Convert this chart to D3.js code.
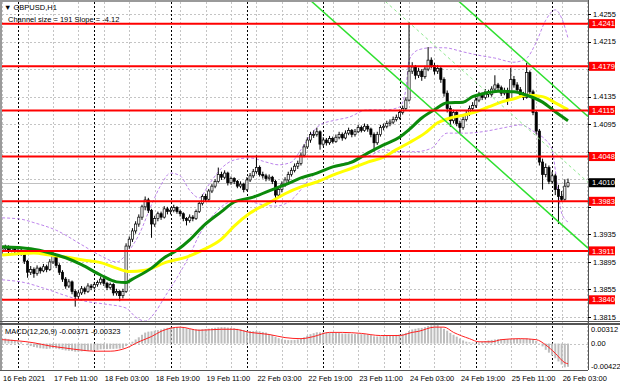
<!DOCTYPE html>
<html>
<head>
<meta charset="utf-8">
<script src="https://cdn.jsdelivr.net/npm/d3@7"></script>
<style>
html, body { margin: 0; padding: 0; background: #fff; }
svg { display: block; font-family: "Liberation Sans", Arial, sans-serif; }
</style>
</head>
<body>
<svg width="620" height="388"></svg>
<script>
// GBPUSD H1, 16 Feb 2021 19:00 .. 26 Feb 05:00
// candle values are pips above 1.3800
const basePrice = 1.38;

const opens = [
  110,114,116,112,115,110,112,108,96,80,
  84,78,86,82,88,84,95,104,90,80,
  70,60,66,52,45,50,56,52,60,58,
  62,65,70,64,58,62,50,52,46,52,
  118,128,140,150,160,175,185,170,150,158,
  165,160,172,168,170,174,168,165,158,155,
  160,158,168,180,190,186,198,205,212,222,
  218,224,210,216,212,205,208,200,214,220,
  226,232,222,220,216,218,212,192,200,208,
  214,222,228,234,238,250,262,272,280,280,
  284,266,272,268,274,270,276,280,275,282,
  286,280,284,290,286,292,288,280,268,280,
  290,292,296,298,302,305,312,318,330,372,
  378,366,372,364,375,388,380,372,376,360,
  340,318,300,312,296,290,302,310,318,322,
  330,338,334,342,338,346,352,348,340,344,
  332,360,352,345,338,334,370,342,312,285,
  240,222,232,212,220,200,190,186,205
];
const highs = [
  118,120,119,118,117,116,114,110,98,89,
  87,90,88,92,91,99,110,106,93,83,
  73,70,68,55,54,60,59,64,63,66,
  68,74,72,66,65,64,56,54,56,122,
  132,144,154,164,178,190,188,172,162,168,
  168,176,175,174,178,176,171,167,160,164,
  163,171,183,193,194,201,208,215,232,226,
  228,226,219,218,214,212,210,218,224,230,
  250,235,226,223,222,220,214,204,212,218,
  226,232,238,242,254,266,276,284,286,290,
  286,276,275,278,277,280,284,283,286,290,
  288,288,294,293,296,295,290,283,284,294,
  296,300,302,306,309,316,322,334,443,385,
  381,377,375,380,407,392,384,381,378,363,
  344,322,316,314,300,306,314,322,327,334,
  342,341,346,345,350,366,355,351,348,348,
  377,365,356,349,342,384,373,345,315,288,
  245,238,235,226,223,207,198,215,216
];
const lows = [
  106,110,108,109,106,106,104,92,72,76,
  72,75,78,80,80,82,92,86,76,66,
  56,57,48,30,40,47,48,50,54,55,
  59,62,60,54,55,46,46,38,42,50,
  114,124,136,146,156,170,166,130,146,154,
  156,158,164,164,167,165,161,154,148,152,
  154,156,166,177,183,184,195,202,210,214,
  215,206,207,208,202,202,196,198,211,217,
  223,219,216,212,213,208,180,188,196,204,
  211,219,225,230,235,247,259,268,275,277,
  258,263,264,265,267,268,273,271,273,279,
  276,277,282,283,284,284,276,255,265,277,
  286,289,292,295,299,302,309,315,328,368,
  360,362,358,361,372,376,367,368,355,335,
  312,291,296,292,282,287,299,307,315,319,
  327,330,331,334,335,343,344,336,337,323,
  330,348,341,334,330,332,338,308,280,235,
  200,218,208,208,192,150,182,184,203
];
const closes = [
  114,116,112,115,110,112,108,96,80,84,
  78,86,82,88,84,95,104,90,80,70,
  60,66,52,45,50,56,52,60,58,62,
  65,70,64,58,62,50,52,46,52,118,
  128,140,150,160,175,185,170,150,158,165,
  160,172,168,170,174,168,165,158,155,160,
  158,168,180,190,186,198,205,212,222,218,
  224,210,216,212,205,208,200,214,220,226,
  232,222,220,216,218,212,192,200,208,214,
  222,228,234,238,250,262,272,280,280,284,
  266,272,268,274,270,276,280,275,282,286,
  280,284,290,286,292,288,280,268,280,290,
  292,296,298,302,305,312,318,330,372,378,
  366,372,364,375,388,380,372,376,360,340,
  318,300,312,296,290,302,310,318,322,330,
  338,334,342,338,346,352,348,340,344,332,
  360,352,345,338,334,370,342,312,285,240,
  222,232,212,220,200,190,186,205,210
];

// moving averages and bands: [bar, pips]
const maGreen = [[0,117],[9,114],[15,108],[20,101],[25,91],[31,76],[36,66],[39,65],[41,70],[47,86],
  [51,101],[55,112],[59,127],[63,146],[69,168],[73,182],[79,189],[85,200],[91,211],[94,217],
  [99,224],[104,233],[110,240],[115,253],[120,265],[125,276],[128,287],[132,304],[136,316],
  [140,326],[145,327],[148,335],[152,340],[156,343],[161,342],[165,337],[170,327],[174,313],[178,300]];
const maYellow = [[0,105],[10,108],[15,105],[20,102],[25,98],[31,94],[36,86],[40,81],[45,83],[52,95],
  [58,102],[63,112],[69,128],[73,147],[78,166],[84,181],[89,194],[94,204],[99,211],[104,221],
  [110,231],[115,240],[120,247],[124,258],[128,268],[133,282],[137,297],[141,304],[145,308],
  [149,313],[153,320],[157,327],[161,332],[165,337],[170,335],[174,326],[178,316]];
const bandUpper = [[0,159],[6,157],[10,152],[17,141],[25,120],[31,104],[36,95],[40,112],[43,134],
  [47,178],[50,207],[53,224],[56,220],[59,199],[62,188],[65,207],[69,231],[73,243],[78,246],
  [83,240],[87,236],[91,240],[94,258],[97,279],[100,294],[105,301],[109,305],[115,316],[121,316],
  [125,320],[127,345],[128,388],[131,403],[135,406],[139,406],[145,400],[150,395],[155,391],
  [161,385],[165,391],[168,414],[171,446],[174,461],[176,449],[178,420]];
const bandLower = [[0,69],[7,65],[13,57],[20,46],[26,38],[32,34],[39,28],[42,15],[45,9],[48,21],
  [51,43],[55,72],[59,105],[62,134],[67,166],[71,181],[76,185],[81,179],[86,176],[91,185],
  [94,200],[97,217],[102,229],[106,236],[111,243],[116,250],[120,258],[125,255],[130,255],
  [135,260],[140,282],[146,282],[151,284],[158,290],[163,294],[168,282],[171,272],[173,258],
  [174,229],[175,192],[176,166],[178,153]];

// MACD main, units of 0.00001
const macdMain = [
  90,80,70,60,45,35,20,0,-25,-40,
  -55,-65,-75,-80,-85,-80,-75,-80,-90,-100,
  -110,-115,-120,-130,-130,-125,-120,-115,-110,-105,
  -100,-92,-90,-88,-85,-85,-82,-80,-75,-40,
  -5,30,65,100,140,175,190,195,205,215,
  225,240,250,258,262,262,258,250,240,232,
  225,222,225,230,232,238,245,252,260,262,
  262,255,250,245,235,225,215,205,200,198,
  200,195,185,175,150,135,105,85,70,60,
  55,55,58,65,80,100,125,150,165,180,
  178,178,175,175,170,170,168,160,160,160,
  155,150,152,150,150,145,135,115,112,115,
  120,125,128,132,138,145,155,170,200,225,
  235,245,250,262,280,290,295,295,260,235,
  205,170,140,110,80,50,30,20,15,12,
  15,25,40,50,58,65,70,72,72,68,
  72,74,75,74,70,80,72,60,40,5,
  -45,-100,-145,-190,-235,-285,-335,-380,-371
];
const macdSignal = [[0,62],[10,12],[15,-38],[20,-72],[25,-105],[29,-122],[34,-122],[39,-72],[43,28],
  [47,112],[50,195],[53,245],[56,262],[62,212],[69,228],[73,228],[78,178],[84,145],[89,95],[94,78],
  [98,112],[103,178],[107,178],[113,162],[119,128],[125,128],[129,178],[131,195],[136,262],[139,262],
  [142,178],[147,78],[150,28],[154,28],[157,62],[163,78],[168,62],[171,-22],[174,-155],[177,-305],[178,-323]];

const levels = [1.4241, 1.4179, 1.4115, 1.4048, 1.3983, 1.3911, 1.3840];
const bidPrice = 1.4010;
const priceTicks = [1.4255, 1.4215, 1.4175, 1.4135, 1.4095, 1.4055, 1.4015, 1.3975, 1.3935, 1.3895, 1.3855, 1.3815];
const dayStartBars = [5, 29, 53, 77, 101, 125, 149, 173];
const timeLabelBars = [0, 16, 32, 48, 64, 80, 96, 112, 128, 144, 160, 176];
const timeLabels = ["16 Feb 2021", "17 Feb 11:00", "18 Feb 03:00", "18 Feb 19:00", "19 Feb 11:00", "22 Feb 03:00",
  "22 Feb 19:00", "23 Feb 11:00", "24 Feb 03:00", "24 Feb 19:00", "25 Feb 11:00", "26 Feb 03:00"];

// regression channel: lower line at last bar, slope in pips per bar, width in pips
const channelBar = 178, channelLow = 141, channelSlope = -4.12, channelSize = 191;

const svg = d3.select("svg");
const plotL = 2, plotR = 588, mainTop = 2, mainBot = 321, macdTop = 325, macdBot = 370;
const fs = 7.5;

const x = d3.scaleLinear().domain([5, 173]).range([18, 552.1]);
const y = d3.scaleLinear().domain([1.3815, 1.4255]).range([317, 14]);
const ym = d3.scaleLinear().domain([-0.00422, 0.00312]).range([370, 324]);
const p = v => basePrice + v / 10000;
const lastBar = x.invert(plotR);

const defs = svg.append("defs");
defs.append("clipPath").attr("id", "clipMain").append("rect")
  .attr("x", plotL).attr("y", mainTop).attr("width", plotR - plotL).attr("height", mainBot - mainTop);
defs.append("clipPath").attr("id", "clipMacd").append("rect")
  .attr("x", plotL).attr("y", macdTop).attr("width", plotR - plotL).attr("height", macdBot - macdTop);

// grid
const grid = svg.append("g").attr("stroke-width", 1).attr("shape-rendering", "crispEdges");
grid.selectAll("line.v")
  .data(d3.range(0, lastBar, 8))
  .join("line")
    .attr("x1", d => Math.round(x(d)) + 0.5).attr("x2", d => Math.round(x(d)) + 0.5)
    .attr("y1", mainTop).attr("y2", macdBot)
    .attr("stroke", "#c4c4c4").attr("stroke-dasharray", "2,2");
grid.selectAll("line.h")
  .data(priceTicks)
  .join("line")
    .attr("x1", plotL).attr("x2", plotR)
    .attr("y1", d => Math.round(y(d)) + 0.5).attr("y2", d => Math.round(y(d)) + 0.5)
    .attr("stroke", "#c4c4c4").attr("stroke-dasharray", "2,2");
grid.append("line")
  .attr("x1", plotL).attr("x2", plotR)
  .attr("y1", Math.round(ym(0)) + 0.5).attr("y2", Math.round(ym(0)) + 0.5)
  .attr("stroke", "#c4c4c4").attr("stroke-dasharray", "2,2");
grid.selectAll("line.sep")
  .data(dayStartBars)
  .join("line")
    .attr("x1", d => Math.round(x(d)) + 0.5).attr("x2", d => Math.round(x(d)) + 0.5)
    .attr("y1", mainTop).attr("y2", macdBot)
    .attr("stroke", "#000").attr("stroke-dasharray", "2,2");

const main = svg.append("g").attr("clip-path", "url(#clipMain)");

// bid line
main.append("line")
  .attr("x1", plotL).attr("x2", plotR)
  .attr("y1", Math.round(y(bidPrice)) + 0.5).attr("y2", Math.round(y(bidPrice)) + 0.5)
  .attr("stroke", "#c0c0c0");

// bollinger bands
const curveLine = d3.line().x(d => x(d[0])).y(d => y(p(d[1]))).curve(d3.curveMonotoneX);
main.selectAll("path.band")
  .data([bandUpper, bandLower])
  .join("path")
    .attr("d", curveLine)
    .attr("fill", "none").attr("stroke", "#bd84ec").attr("stroke-width", 1)
    .attr("stroke-dasharray", "3,2");

// candles
const bars = d3.range(closes.length);
const candle = main.append("g").selectAll("g").data(bars).join("g");
candle.append("line")
  .attr("x1", i => x(i)).attr("x2", i => x(i))
  .attr("y1", i => y(p(highs[i]))).attr("y2", i => y(p(lows[i])))
  .attr("stroke", "#000").attr("stroke-width", 1);
candle.append("rect")
  .attr("x", i => x(i) - 1.1)
  .attr("width", 2.2)
  .attr("y", i => y(p(Math.max(opens[i], closes[i]))))
  .attr("height", i => Math.max(0.8, Math.abs(y(p(opens[i])) - y(p(closes[i])))))
  .attr("fill", i => closes[i] >= opens[i] ? "#fff" : "#000")
  .attr("stroke", "#000").attr("stroke-width", 0.7);

// moving averages
main.append("path").datum(maYellow)
  .attr("d", curveLine).attr("fill", "none").attr("stroke", "#ffff00").attr("stroke-width", 3);
main.append("path").datum(maGreen)
  .attr("d", curveLine).attr("fill", "none").attr("stroke", "#0b8a0b").attr("stroke-width", 3);

// regression channel
const chStart = 60;
const chLow = b => channelLow + channelSlope * (b - channelBar);
const chLines = [
  { off: 0, dash: null, color: "#2fe02f", w: 1.5 },
  { off: channelSize, dash: null, color: "#2fe02f", w: 1.5 },
  { off: channelSize / 2, dash: "3,3", color: "#8ee88e", w: 1 }
];
main.selectAll("line.ch")
  .data(chLines)
  .join("line")
    .attr("x1", x(chStart)).attr("x2", x(lastBar))
    .attr("y1", d => y(p(chLow(chStart) + d.off)))
    .attr("y2", d => y(p(chLow(lastBar) + d.off)))
    .attr("stroke", d => d.color).attr("stroke-width", d => d.w)
    .attr("stroke-dasharray", d => d.dash);

// support / resistance levels
main.selectAll("line.lvl")
  .data(levels)
  .join("line")
    .attr("x1", plotL).attr("x2", plotR)
    .attr("y1", d => y(d)).attr("y2", d => y(d))
    .attr("stroke", "#ff0000").attr("stroke-width", 2);

// MACD
const macd = svg.append("g").attr("clip-path", "url(#clipMacd)");
macd.selectAll("rect")
  .data(bars)
  .join("rect")
    .attr("x", i => x(i) - 1)
    .attr("width", 2)
    .attr("y", i => Math.min(ym(0), ym(macdMain[i] / 1e5)))
    .attr("height", i => Math.abs(ym(0) - ym(macdMain[i] / 1e5)))
    .attr("fill", "#bdbdbd");
macd.append("path").datum(macdSignal)
  .attr("d", d3.line().x(d => x(d[0])).y(d => ym(d[1] / 1e5)).curve(d3.curveMonotoneX))
  .attr("fill", "none").attr("stroke", "#ff2020").attr("stroke-width", 1);

// frames
const frame = svg.append("g").attr("shape-rendering", "crispEdges");
frame.append("line").attr("x1", 0).attr("x2", plotR).attr("y1", 1).attr("y2", 1)
  .attr("stroke", "#9a9a9a").attr("stroke-width", 2);
frame.append("line").attr("x1", 1).attr("x2", 1).attr("y1", 0).attr("y2", macdBot)
  .attr("stroke", "#9a9a9a").attr("stroke-width", 2);
frame.append("line").attr("x1", plotR + 0.5).attr("x2", plotR + 0.5).attr("y1", 0).attr("y2", macdBot)
  .attr("stroke", "#555");
frame.append("line").attr("x1", 0).attr("x2", 620).attr("y1", 321.5).attr("y2", 321.5).attr("stroke", "#555");
frame.append("line").attr("x1", 0).attr("x2", 620).attr("y1", 324).attr("y2", 324)
  .attr("stroke", "#555").attr("stroke-width", 1.5);
frame.append("line").attr("x1", 0).attr("x2", plotR).attr("y1", macdBot + 0.5).attr("y2", macdBot + 0.5)
  .attr("stroke", "#555");

// price axis; tick labels that sit under a level tag are covered, as in the terminal
const tags = levels.map(v => ({ v, fill: "#ff0000" })).concat([{ v: bidPrice, fill: "#000" }]);
const freeTicks = priceTicks.filter(t => tags.every(g => Math.abs(y(t) - y(g.v)) > 9));
const axis = svg.append("g").attr("font-size", fs);
axis.selectAll("line.tk")
  .data(priceTicks)
  .join("line")
    .attr("x1", plotR).attr("x2", plotR + 3)
    .attr("y1", d => Math.round(y(d)) + 0.5).attr("y2", d => Math.round(y(d)) + 0.5)
    .attr("stroke", "#000");
axis.selectAll("text.tk")
  .data(freeTicks)
  .join("text")
    .attr("x", 593).attr("y", d => y(d) + 2.7)
    .attr("fill", "#000")
    .text(d => d.toFixed(4));

const tag = axis.selectAll("g.tag").data(tags).join("g");
tag.append("rect")
  .attr("x", plotR + 1).attr("y", d => y(d.v) - 4.5)
  .attr("width", 26).attr("height", 9)
  .attr("fill", d => d.fill);
tag.append("text")
  .attr("x", 592).attr("y", d => y(d.v) + 2.7)
  .attr("fill", "#fff")
  .text(d => d.v.toFixed(4));

// MACD axis
const macdTicks = [
  { v: 0.00312, t: "0.00312", dy: 7.5 },
  { v: 0, t: "0.00", dy: 2.7 },
  { v: -0.00422, t: "-0.00422", dy: -1.5 }
];
axis.selectAll("text.m")
  .data(macdTicks)
  .join("text")
    .attr("x", 591).attr("y", d => ym(d.v) + d.dy)
    .attr("fill", "#000")
    .text(d => d.t);

// time axis
axis.selectAll("text.t")
  .data(timeLabelBars)
  .join("text")
    .attr("x", d => x(d) + 1).attr("y", 381)
    .attr("fill", "#000")
    .text((d, i) => timeLabels[i]);

// captions
svg.append("text").attr("x", 4).attr("y", 9.5).attr("font-size", fs).attr("fill", "#000")
  .text("\u25BC GBPUSD,H1");
svg.append("text").attr("x", 8).attr("y", 21.5).attr("font-size", fs).attr("fill", "#000")
  .text("Channel size = 191 Slope = -4.12");
svg.append("text").attr("x", 5).attr("y", 333.5).attr("font-size", fs).attr("fill", "#000")
  .text("MACD(12,26,9) -0.00371 -0.00323");
</script>
</body>
</html>
